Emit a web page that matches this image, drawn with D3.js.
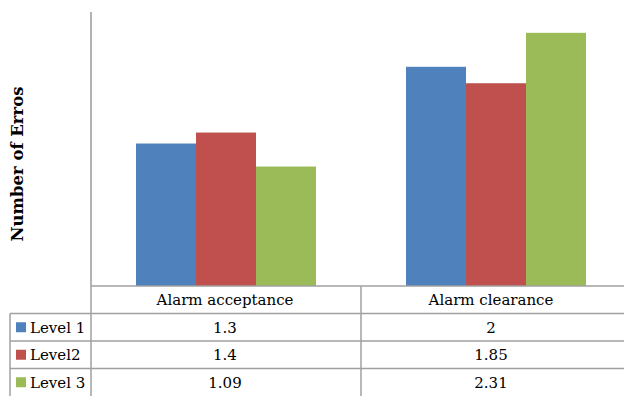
<!DOCTYPE html>
<html><head><meta charset="utf-8">
<script src="https://cdn.jsdelivr.net/npm/d3@7"></script>
<style>body{margin:0;background:#fff}svg{display:block}</style>
</head><body>
<script>
const categories = ["Alarm acceptance", "Alarm clearance"];
const seriesNames = ["Level 1", "Level2", "Level 3"];
const level1 = [1.3, 2];
const level2 = [1.4, 1.85];
const level3 = [1.09, 2.31];
const colors = ["#4F81BD", "#C0504D", "#9BBB59"];

const values = [level1, level2, level3];

const W = 624, H = 396;
const font = "'DejaVu Serif', 'Liberation Serif', serif";
const svg = d3.select("body").append("svg").attr("width", W).attr("height", H);

const plotLeft = 91, plotRight = 631, plotTop = 12, base = 286;
const x0 = d3.scaleBand().domain(categories).range([plotLeft, plotRight]);
const x1 = d3.scaleBand().domain(seriesNames).range([0, x0.bandwidth()]).paddingOuter(0.75);
const y = d3.scaleLinear().domain([0, 2.5]).range([base, plotTop]);

// bars
seriesNames.forEach((s, si) => {
  svg.append("g").selectAll("rect").data(categories).join("rect")
    .attr("x", c => x0(c) + x1(s))
    .attr("width", x1.bandwidth())
    .attr("y", (c, ci) => y(values[si][ci]))
    .attr("height", (c, ci) => base - y(values[si][ci]))
    .attr("fill", colors[si]);
});

// value axis line (no ticks)
svg.append("line").attr("x1", plotLeft).attr("x2", plotLeft).attr("y1", plotTop).attr("y2", base)
  .attr("stroke", "#9a9a9a").attr("stroke-width", 1.5);

// data table
const rowY = [base, 313.5, 341, 368.5, H];
const grid = svg.append("g").attr("stroke", "#a0a0a0").attr("stroke-width", 1.5);
grid.append("line").attr("x1", plotLeft).attr("x2", W).attr("y1", rowY[0]).attr("y2", rowY[0]);
for (let i = 1; i <= 3; i++) {
  grid.append("line").attr("x1", 10).attr("x2", W).attr("y1", rowY[i]).attr("y2", rowY[i]);
}
grid.append("line").attr("x1", 10).attr("x2", 10).attr("y1", rowY[1]).attr("y2", H);
grid.append("line").attr("x1", plotLeft).attr("x2", plotLeft).attr("y1", base).attr("y2", H);
grid.append("line").attr("x1", x0(categories[1])).attr("x2", x0(categories[1])).attr("y1", base).attr("y2", H);

const colX = c => x0(c) + x0.bandwidth() / 2 - (c === categories[1] ? 5 : 1);

// header labels
svg.append("g").selectAll("text").data(categories).join("text")
  .attr("x", colX)
  .attr("y", (rowY[0] + rowY[1]) / 2 + 5.5)
  .attr("text-anchor", "middle")
  .attr("font-family", font).attr("font-size", 15).attr("fill", "#000")
  .text(c => c);

// series rows: legend key + values
seriesNames.forEach((s, si) => {
  const yc = (rowY[si + 1] + rowY[si + 2]) / 2;
  svg.append("rect").attr("x", 16).attr("y", yc - 5).attr("width", 10).attr("height", 10)
    .attr("fill", colors[si]);
  svg.append("text").attr("x", 30).attr("y", yc + 5.5)
    .attr("font-family", font).attr("font-size", 15).attr("fill", "#000").text(s);
  svg.append("g").selectAll("text").data(categories).join("text")
    .attr("x", colX)
    .attr("y", yc + 5.5)
    .attr("text-anchor", "middle")
    .attr("font-family", font).attr("font-size", 15).attr("fill", "#000")
    .text((c, ci) => String(values[si][ci]));
});

// y-axis title
svg.append("text")
  .attr("transform", `translate(23,${(plotTop + base) / 2 + 15}) rotate(-90)`)
  .attr("text-anchor", "middle")
  .attr("font-family", font).attr("font-size", 16.5).attr("font-weight", "bold").attr("fill", "#000")
  .text("Number of Erros");
</script>
</body></html>
